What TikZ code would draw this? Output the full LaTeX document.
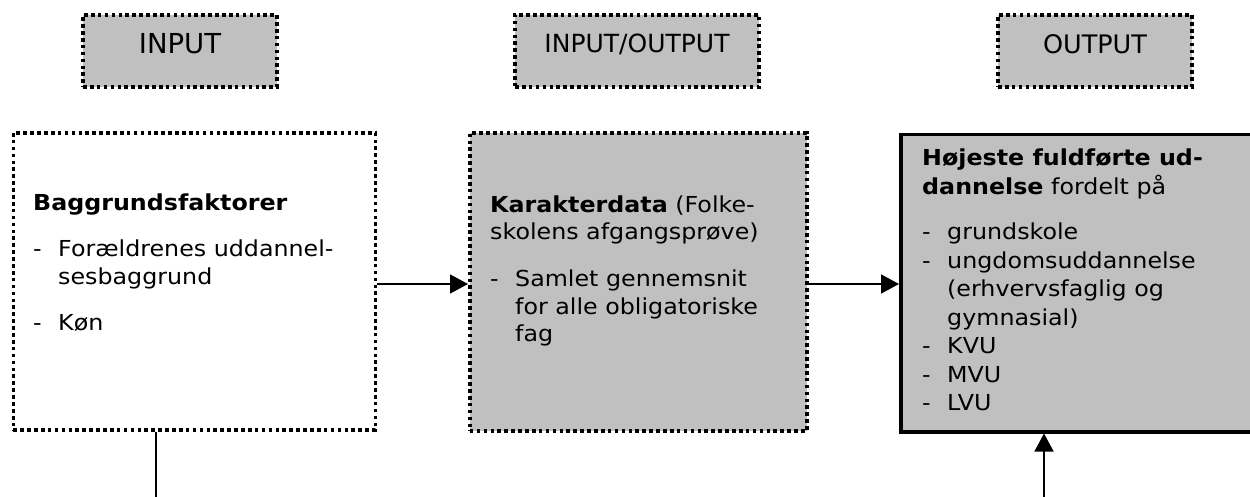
\documentclass[tikz,border=0pt]{standalone}
\usepackage{fontspec}
\setmainfont{DejaVu Sans}
\newfontfamily\bodyfont[FakeStretch=1.08]{DejaVu Sans}
\usetikzlibrary{arrows.meta}
\definecolor{boxgray}{HTML}{C0C0C0}
\newcommand{\itm}[1]{\makebox[25pt][l]{-}#1}
\newcommand{\cnt}[1]{\hspace*{25pt}#1}
\tikzset{
  dotbox/.style={draw=black, line width=3.6pt, dash pattern=on 3.6pt off 3.3pt, inner sep=0pt},
  solidbox/.style={draw=black, line width=3.5pt, inner sep=0pt},
  hdrtext/.style={anchor=base, inner sep=0pt},
  bodytext/.style={anchor=base west, inner sep=0pt},
  conn/.style={line width=1.5pt},
  arr/.style={line width=1.5pt, -{Triangle[length=18pt,width=19pt]}}
}
\begin{document}
\begin{tikzpicture}[x=1pt,y=-1pt]
\useasboundingbox (0,0) rectangle (1250,497);
% header boxes
\node[dotbox, fill=boxgray, minimum width=194pt, minimum height=72pt] (hin) at (180,51) {};
\node[hdrtext, font=\fontsize{27.5}{32}\selectfont] (hintext) at (180,54) {INPUT};
\node[dotbox, fill=boxgray, minimum width=244pt, minimum height=72pt] (hio) at (637,51) {};
\node[hdrtext, font=\fontsize{25}{30}\selectfont] (hiotext) at (637,52.5) {INPUT/OUTPUT};
\node[dotbox, fill=boxgray, minimum width=194pt, minimum height=72pt] (hout) at (1095,51) {};
\node[hdrtext, font=\fontsize{25.5}{30}\selectfont] (houttext) at (1095,54) {OUTPUT};
% main boxes
\node[dotbox, fill=white, minimum width=362pt, minimum height=297pt, anchor=north west] (b1) at (11.5,131) {};
\node[dotbox, fill=boxgray, minimum width=337pt, minimum height=298pt, anchor=north west] (b2) at (468,131) {};
\node[solidbox, fill=boxgray, minimum width=370pt, minimum height=297pt, anchor=north west] (b3) at (899,133) {};
% texts
\node[bodytext] (t1) at (33,211) {\parbox[t]{330pt}{\bodyfont\fontsize{22}{28}\selectfont\raggedright
\textbf{Baggrundsfaktorer}\\[18pt]
\itm{Forældrenes uddannel-}\\
\cnt{sesbaggrund}\\[18pt]
\itm{Køn}}};
\node[bodytext] (t2) at (490,212) {\parbox[t]{310pt}{\bodyfont\fontsize{22}{28}\selectfont\raggedright
\textbf{Karakterdata} (Folke-\\
skolens afgangsprøve)\\[18pt]
\itm{Samlet gennemsnit}\\
\cnt{for alle obligatoriske}\\
\cnt{fag}}};
\node[bodytext] (t3) at (922,166) {\parbox[t]{320pt}{\bodyfont\fontsize{22}{28.5}\selectfont\raggedright
\textbf{Højeste fuldførte ud-}\\
\textbf{dannelse} fordelt på\\[17pt]
\itm{grundskole}\\
\itm{ungdomsuddannelse}\\
\cnt{(erhvervsfaglig og}\\
\cnt{gymnasial)}\\
\itm{KVU}\\
\itm{MVU}\\
\itm{LVU}}};
% connectors
\coordinate (d1) at (156,497);
\coordinate (u3) at (1044,497);
\draw[arr] (b1.east |- 0,284) -- (b2.west |- 0,284);
\draw[arr] (b2.east |- 0,284) -- (b3.west |- 0,284);
\draw[conn] (b1.south -| d1) -- (d1);
\draw[arr] (u3) -- (b3.south -| u3);
\end{tikzpicture}
\end{document}
